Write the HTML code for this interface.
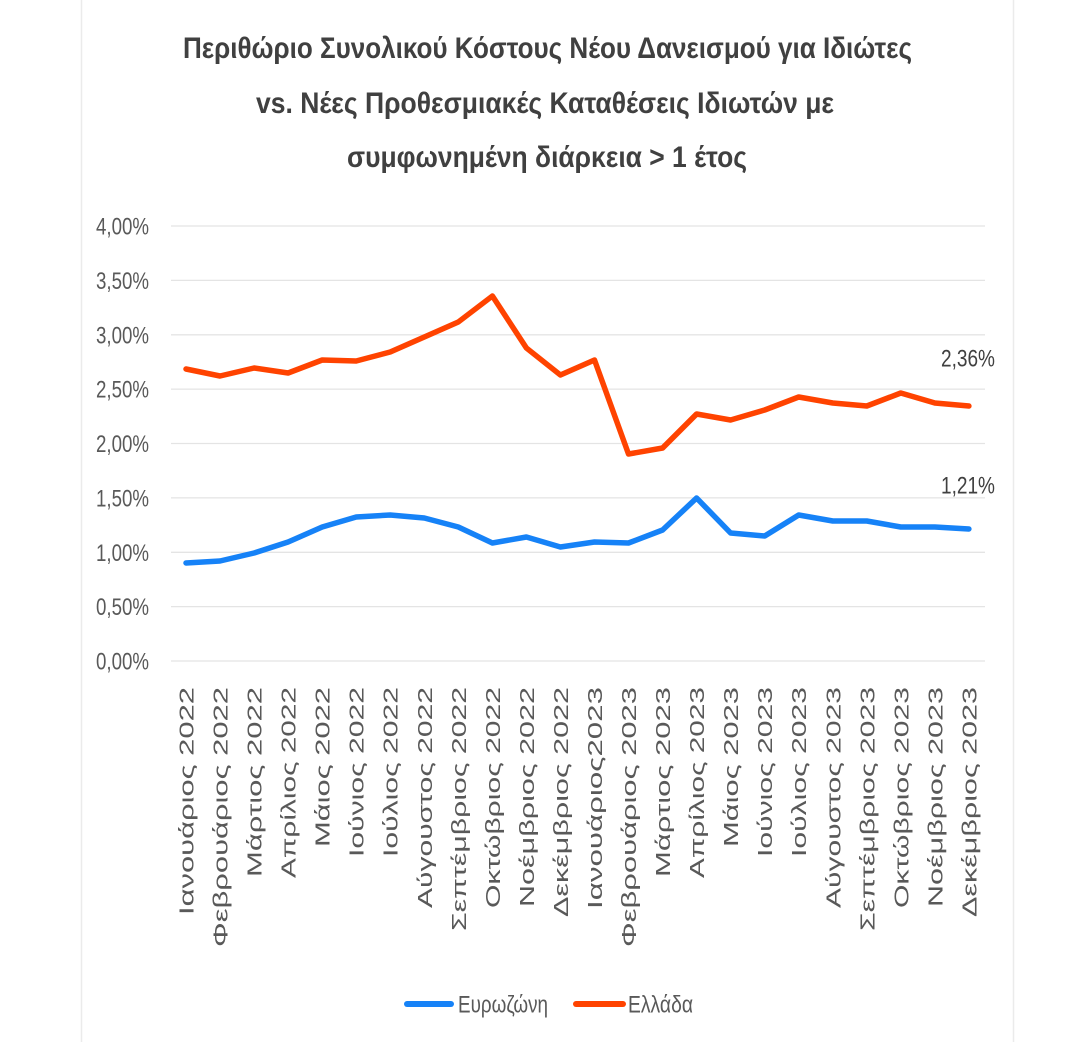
<!DOCTYPE html>
<html>
<head>
<meta charset="utf-8">
<style>
  html, body { margin: 0; padding: 0; background: #ffffff; }
  body { width: 1080px; height: 1042px; overflow: hidden; }
  svg { display: block; }
  text { font-family: "Liberation Sans", "DejaVu Sans", sans-serif; }
</style>
</head>
<body>
<svg width="1080" height="1042" viewBox="0 0 1080 1042" xmlns="http://www.w3.org/2000/svg">
  <rect x="0" y="0" width="1080" height="1042" fill="#ffffff"/>
  <!-- chart frame edges -->
  <line x1="81.5" y1="0" x2="81.5" y2="1042" stroke="#ebebeb" stroke-width="1.5"/>
  <line x1="1013.5" y1="0" x2="1013.5" y2="1042" stroke="#ebebeb" stroke-width="1.5"/>

  <!-- Title -->
  <g fill="#404040" font-weight="bold" font-size="30" text-anchor="middle">
    <text x="547.5" y="58" textLength="729" lengthAdjust="spacingAndGlyphs">Περιθώριο Συνολικού Κόστους Νέου Δανεισμού για Ιδιώτες</text>
    <text x="545" y="113" textLength="578" lengthAdjust="spacingAndGlyphs">vs. Νέες Προθεσμιακές Καταθέσεις Ιδιωτών με</text>
    <text x="547" y="167" textLength="400" lengthAdjust="spacingAndGlyphs">συμφωνημένη διάρκεια &gt; 1 έτος</text>
  </g>

  <!-- gridlines -->
  <g stroke="#e4e4e4" stroke-width="1.3">
    <line x1="171" y1="226" x2="985" y2="226"/>
    <line x1="171" y1="280.4" x2="985" y2="280.4"/>
    <line x1="171" y1="334.8" x2="985" y2="334.8"/>
    <line x1="171" y1="389.1" x2="985" y2="389.1"/>
    <line x1="171" y1="443.5" x2="985" y2="443.5"/>
    <line x1="171" y1="497.9" x2="985" y2="497.9"/>
    <line x1="171" y1="552.3" x2="985" y2="552.3"/>
    <line x1="171" y1="606.6" x2="985" y2="606.6"/>
    <line x1="171" y1="661" x2="985" y2="661"/>
  </g>

  <!-- y-axis labels -->
  <g fill="#595959" font-size="24" text-anchor="end">
    <text x="149" y="234.5" textLength="53" lengthAdjust="spacingAndGlyphs">4,00%</text>
    <text x="149" y="288.9" textLength="53" lengthAdjust="spacingAndGlyphs">3,50%</text>
    <text x="149" y="343.3" textLength="53" lengthAdjust="spacingAndGlyphs">3,00%</text>
    <text x="149" y="397.6" textLength="53" lengthAdjust="spacingAndGlyphs">2,50%</text>
    <text x="149" y="452" textLength="53" lengthAdjust="spacingAndGlyphs">2,00%</text>
    <text x="149" y="506.4" textLength="53" lengthAdjust="spacingAndGlyphs">1,50%</text>
    <text x="149" y="560.8" textLength="53" lengthAdjust="spacingAndGlyphs">1,00%</text>
    <text x="149" y="615.1" textLength="53" lengthAdjust="spacingAndGlyphs">0,50%</text>
    <text x="149" y="669.5" textLength="53" lengthAdjust="spacingAndGlyphs">0,00%</text>
  </g>

  <!-- Series: Ελλάδα (orange) -->
  <polyline fill="none" stroke="#ff4300" stroke-width="5.5" stroke-linejoin="round" stroke-linecap="round"
    points="186,369 220,376 254.1,368 288.1,373 322.2,360 356.2,361 390.2,352 424.3,337 458.3,322 492.4,296 526.4,348 560.4,375 594.5,360 628.5,454 662.6,448 696.6,414 730.6,420 764.7,410 798.7,397 832.8,403 866.8,406 900.8,393 934.9,403 968.9,406"/>

  <!-- Series: Ευρωζώνη (blue) -->
  <polyline fill="none" stroke="#1682f7" stroke-width="5.5" stroke-linejoin="round" stroke-linecap="round"
    points="186,563 220,561 254.1,553 288.1,542 322.2,527 356.2,517 390.2,515 424.3,518 458.3,527 492.4,543 526.4,537 560.4,547 594.5,542 628.5,543 662.6,530 696.6,498 730.6,533 764.7,536 798.7,515 832.8,521 866.8,521 900.8,527 934.9,527 968.9,529"/>

  <!-- data labels -->
  <g fill="#404040" font-size="24">
    <text x="941" y="366.5" textLength="54" lengthAdjust="spacingAndGlyphs">2,36%</text>
    <text x="941" y="493.5" textLength="54" lengthAdjust="spacingAndGlyphs">1,21%</text>
  </g>

  <!-- x-axis labels (rotated) -->
  <g fill="#595959" font-size="20.5" text-anchor="end">
    <text transform="translate(193.5,687) rotate(-90)" textLength="228" lengthAdjust="spacingAndGlyphs">Ιανουάριος 2022</text>
    <text transform="translate(227.5,687) rotate(-90)" textLength="260" lengthAdjust="spacingAndGlyphs">Φεβρουάριος 2022</text>
    <text transform="translate(261.6,687) rotate(-90)" textLength="190" lengthAdjust="spacingAndGlyphs">Μάρτιος 2022</text>
    <text transform="translate(295.6,687) rotate(-90)" textLength="191" lengthAdjust="spacingAndGlyphs">Απρίλιος 2022</text>
    <text transform="translate(329.7,687) rotate(-90)" textLength="160" lengthAdjust="spacingAndGlyphs">Μάιος 2022</text>
    <text transform="translate(363.7,687) rotate(-90)" textLength="170" lengthAdjust="spacingAndGlyphs">Ιούνιος 2022</text>
    <text transform="translate(397.7,687) rotate(-90)" textLength="170" lengthAdjust="spacingAndGlyphs">Ιούλιος 2022</text>
    <text transform="translate(431.8,687) rotate(-90)" textLength="221" lengthAdjust="spacingAndGlyphs">Αύγουστος 2022</text>
    <text transform="translate(465.8,687) rotate(-90)" textLength="244" lengthAdjust="spacingAndGlyphs">Σεπτέμβριος 2022</text>
    <text transform="translate(499.9,687) rotate(-90)" textLength="221" lengthAdjust="spacingAndGlyphs">Οκτώβριος 2022</text>
    <text transform="translate(533.9,687) rotate(-90)" textLength="220" lengthAdjust="spacingAndGlyphs">Νοέμβριος 2022</text>
    <text transform="translate(567.9,687) rotate(-90)" textLength="230" lengthAdjust="spacingAndGlyphs">Δεκέμβριος 2022</text>
    <text transform="translate(602,687) rotate(-90)" textLength="222" lengthAdjust="spacingAndGlyphs">Ιανουάριος2023</text>
    <text transform="translate(636,687) rotate(-90)" textLength="260" lengthAdjust="spacingAndGlyphs">Φεβρουάριος 2023</text>
    <text transform="translate(670.1,687) rotate(-90)" textLength="190" lengthAdjust="spacingAndGlyphs">Μάρτιος 2023</text>
    <text transform="translate(704.1,687) rotate(-90)" textLength="191" lengthAdjust="spacingAndGlyphs">Απρίλιος 2023</text>
    <text transform="translate(738.1,687) rotate(-90)" textLength="160" lengthAdjust="spacingAndGlyphs">Μάιος 2023</text>
    <text transform="translate(772.2,687) rotate(-90)" textLength="170" lengthAdjust="spacingAndGlyphs">Ιούνιος 2023</text>
    <text transform="translate(806.2,687) rotate(-90)" textLength="170" lengthAdjust="spacingAndGlyphs">Ιούλιος 2023</text>
    <text transform="translate(840.3,687) rotate(-90)" textLength="221" lengthAdjust="spacingAndGlyphs">Αύγουστος 2023</text>
    <text transform="translate(874.3,687) rotate(-90)" textLength="244" lengthAdjust="spacingAndGlyphs">Σεπτέμβριος 2023</text>
    <text transform="translate(908.3,687) rotate(-90)" textLength="221" lengthAdjust="spacingAndGlyphs">Οκτώβριος 2023</text>
    <text transform="translate(942.4,687) rotate(-90)" textLength="220" lengthAdjust="spacingAndGlyphs">Νοέμβριος 2023</text>
    <text transform="translate(976.4,687) rotate(-90)" textLength="230" lengthAdjust="spacingAndGlyphs">Δεκέμβριος 2023</text>
  </g>

  <!-- Legend -->
  <line x1="407" y1="1004" x2="451" y2="1004" stroke="#1682f7" stroke-width="6" stroke-linecap="round"/>
  <text x="458" y="1012.5" fill="#595959" font-size="24" textLength="90" lengthAdjust="spacingAndGlyphs">Ευρωζώνη</text>
  <line x1="576" y1="1004" x2="623" y2="1004" stroke="#ff4300" stroke-width="6" stroke-linecap="round"/>
  <text x="628" y="1012.5" fill="#595959" font-size="24" textLength="65" lengthAdjust="spacingAndGlyphs">Ελλάδα</text>
</svg>
</body>
</html>
